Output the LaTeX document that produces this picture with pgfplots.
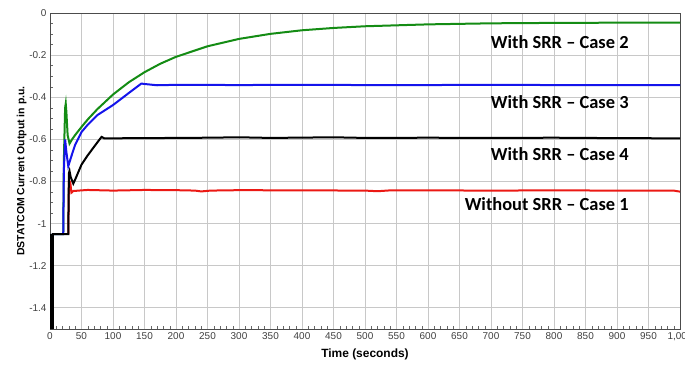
\documentclass[border=0pt]{standalone}
\usepackage{pgfplots}
\pgfplotsset{compat=1.18}
\usepackage{fontspec}
\setmainfont{Liberation Sans}
\newfontfamily\carlito{Carlito}
\definecolor{cgreen}{RGB}{20,140,20}
\definecolor{cblue}{RGB}{20,20,235}
\definecolor{cred}{RGB}{235,25,20}
\definecolor{gridgray}{RGB}{200,200,200}
\begin{document}
\begin{tikzpicture}
\begin{axis}[
  scale only axis, width=630bp, height=316bp,
  xmin=0, xmax=1000, ymin=-1.5, ymax=0,
  xtick distance=50, ytick distance=0.2,
  minor x tick num=4, minor y tick num=3,
  xtick pos=bottom, ytick pos=left,
  grid=major,
  major grid style={draw=gridgray, line width=0.9bp},
  axis line style={draw=black!70, line width=0.8bp},
  every tick/.style={black!60},
  major tick length=0pt, minor tick length=3bp,
  /pgf/number format/assume math mode=true,
  /pgf/number format/1000 sep={,},
  /pgf/number format/fixed,
  yticklabel style={font=\fontsize{10}{12}\selectfont, text=black!75},
  xticklabel style={font=\fontsize{10}{12}\selectfont, text=black!75},
  xlabel={\textbf{Time (seconds)}},
  ylabel={\textbf{DSTATCOM Current Output in p.u.}},
  xlabel style={font=\fontsize{12}{13}\selectfont, yshift=-1bp},
  ylabel style={font=\fontsize{10.5}{12}\selectfont, yshift=-4bp},
  clip=true,
]
% Case 1 red
\addplot[cred, line width=2bp] coordinates {
(29,-1.05)(30,-0.80)(32,-0.80)(34,-0.853)(37,-0.845)(50,-0.842)(60,-0.840)(100,-0.843)(150,-0.840)(200,-0.841)(230,-0.843)(240,-0.847)(255,-0.843)(300,-0.841)(400,-0.842)(500,-0.843)(520,-0.846)(540,-0.842)(600,-0.842)(700,-0.843)(800,-0.842)(900,-0.843)(990,-0.843)(1000,-0.848)};
% Case 2 green
\addplot[cgreen, line width=2bp] coordinates {
(3,-1.05)(21,-1.05)(22,-0.70)(24,-0.45)(25,-0.43)(26,-0.47)(28,-0.58)(31,-0.62)(35,-0.60)(40,-0.579)(50,-0.541)(60,-0.505)(75,-0.457)(100,-0.387)(125,-0.329)(150,-0.281)(175,-0.241)(200,-0.208)(250,-0.158)(300,-0.123)(350,-0.099)(400,-0.082)(450,-0.071)(500,-0.063)(600,-0.054)(700,-0.049)(800,-0.047)(900,-0.046)(1000,-0.046)};
% Case 3 blue
\addplot[cblue, line width=2bp] coordinates {
(3,-1.05)(21,-1.05)(22,-0.75)(24,-0.60)(26,-0.66)(29,-0.727)(35,-0.67)(40,-0.625)(50,-0.565)(60,-0.53)(75,-0.485)(100,-0.437)(125,-0.38)(145,-0.335)(150,-0.337)(170,-0.343)(200,-0.341)(300,-0.342)(400,-0.341)(500,-0.342)(600,-0.342)(700,-0.341)(800,-0.342)(900,-0.342)(1000,-0.342)};
% Case 4 black
\addplot[black, line width=2bp] coordinates {
(3,-1.05)(29,-1.05)(30,-0.76)(31,-0.75)(33,-0.78)(37,-0.81)(40,-0.79)(50,-0.72)(60,-0.675)(70,-0.635)(80,-0.595)(82,-0.588)(86,-0.595)(150,-0.594)(200,-0.593)(250,-0.592)(300,-0.590)(350,-0.593)(450,-0.590)(500,-0.593)(600,-0.592)(700,-0.593)(800,-0.592)(900,-0.594)(1000,-0.595)};
\addplot[black, line width=4bp] coordinates {(2.5,-1.5)(2.5,-1.05)};
\node[anchor=east, font=\carlito\bfseries\fontsize{18.5}{20}\selectfont] at (axis cs:924,-0.136) {With SRR – Case 2};
\node[anchor=east, font=\carlito\bfseries\fontsize{18.5}{20}\selectfont] at (axis cs:924,-0.421) {With SRR – Case 3};
\node[anchor=east, font=\carlito\bfseries\fontsize{18.5}{20}\selectfont] at (axis cs:924,-0.669) {With SRR – Case 4};
\node[anchor=east, font=\carlito\bfseries\fontsize{18.5}{20}\selectfont] at (axis cs:924,-0.907) {Without SRR – Case 1};
\end{axis}
\pgfresetboundingbox
\path[use as bounding box] ([xshift=-50bp,yshift=-38bp]current axis.south west) rectangle ([xshift=5bp,yshift=13bp]current axis.north east);
\end{tikzpicture}
\end{document}
